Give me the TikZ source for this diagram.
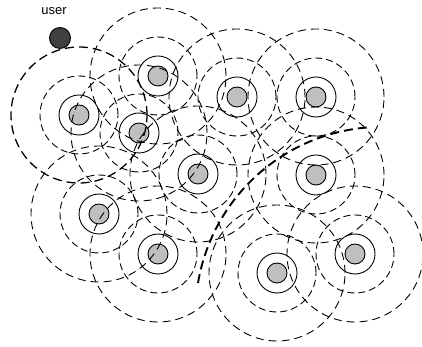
\documentclass[tikz,border=0pt]{standalone}
\usepackage{fontspec}
\setmainfont{Liberation Sans}
\usepackage{tikz}

\begin{document}
\begin{tikzpicture}[x=1pt, y=1pt, font=\fontsize{13}{15}\selectfont,
  cell/.style={circle, draw, fill=gray!50, line width=0.9pt, minimum size=20pt, inner sep=0pt},
  usr/.style={circle, draw, fill=black!75, line width=0.9pt, minimum size=21pt, inner sep=0pt},
  ring/.style={line width=0.9pt},
  near/.style={dashed, dash pattern=on 7pt off 4pt, line width=0.9pt},
  far/.style={dashed, dash pattern=on 8pt off 5pt, line width=0.9pt},
  farthick/.style={dashed, dash pattern=on 9pt off 5pt, line width=1.3pt},
  bound/.style={dashed, dash pattern=on 9pt off 5pt, line width=1.9pt}
]
\useasboundingbox (0,0) rectangle (422,347);
% user and its label
\node[usr] (user) at (60,309) {};
\node (ulabel) at (54,336) {user};
% base stations
\node[cell] (c1) at (79,232) {};
\node[cell] (c2) at (158,271) {};
\node[cell] (c3) at (237,250) {};
\node[cell] (c4) at (316,250) {};
\node[cell] (c5) at (139,214) {};
\node[cell] (c6) at (198,173) {};
\node[cell] (c7) at (316,172) {};
\node[cell] (c8) at (99,133) {};
\node[cell] (c9) at (158,93) {};
\node[cell] (c10) at (277,74) {};
\node[cell] (c11) at (355,93) {};
% coverage rings
\foreach \c in {c1,c2,c3,c4,c5,c6,c7,c8,c9,c10,c11}{
  \draw[ring] (\c) circle (20pt);
  \draw[near] (\c) circle (39pt);
}
\foreach \c in {c2,c3,c4,c5,c6,c7,c8,c9,c10,c11}
  \draw[far] (\c) circle (68pt);
\draw[farthick] (c1) circle (68pt);
% boundary
\draw[bound] (198,64) arc[start angle=170.5, end angle=93.4, radius=187pt];
\end{tikzpicture}
\end{document}
